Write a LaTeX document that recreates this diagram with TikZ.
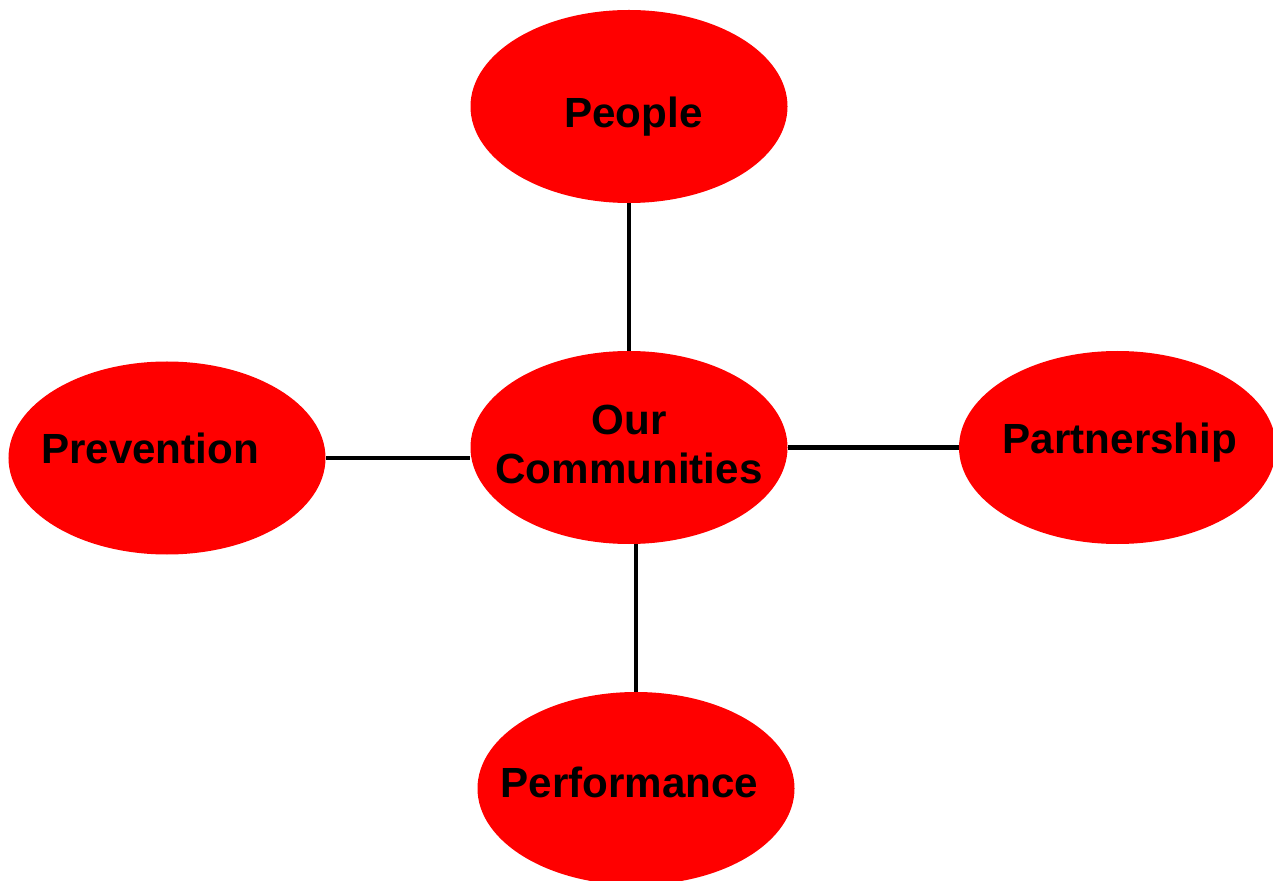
\documentclass[tikz,border=0pt]{standalone}
\usepackage{fontspec}
\setmainfont{Liberation Sans}
\usetikzlibrary{shapes.geometric,calc}
\definecolor{ovalred}{RGB}{255,0,0}
\tikzset{oval/.style={ellipse,fill=ovalred,minimum width=6.34cm,minimum height=3.86cm,inner sep=0pt},
  ovaltext/.style={font=\fontsize{24}{28}\selectfont\bfseries,inner sep=0pt,text height=0.62cm,text depth=0pt},
  spoke/.style={line width=2.7pt,black}}

\begin{document}
\begin{tikzpicture}
            \useasboundingbox (0,0) rectangle (25.46,17.6);
            % ovals
            \node[oval] (comm) at (12.58,8.65) {};
            \node[oval] (people) at (12.58,15.47) {};
            \node[oval] (prev) at (3.34,8.44) {};
            \node[oval] (part) at (22.35,8.65) {};
            \node[oval] (perf) at (12.72,1.83) {};
            % texts
            \node[font=\fontsize{24}{28}\selectfont\bfseries,align=center,inner sep=0pt] (commtxt) at ($(comm)+(0,0.06)$) {Our\\Communities};
            \node[ovaltext] (peopletxt) at ($(people)+(0.09,-0.11)$) {People};
            \node[ovaltext] (prevtxt) at ($(prev)+(-0.34,0.2)$) {Prevention};
            \node[ovaltext] (parttxt) at ($(part)+(0.05,0.19)$) {Partnership};
            \node[ovaltext] (perftxt) at ($(perf)+(-0.13,0.13)$) {Performance};
            % spokes
            \draw[spoke] (people.south) -- (comm.north);
            \draw[spoke] (perf.north) -- (perf.north |- comm.south);
            \draw[spoke] (prev.east) -- (prev.east -| comm.west);
            \draw[spoke] (comm.east) -- (part.west);
\end{tikzpicture}
\end{document}
